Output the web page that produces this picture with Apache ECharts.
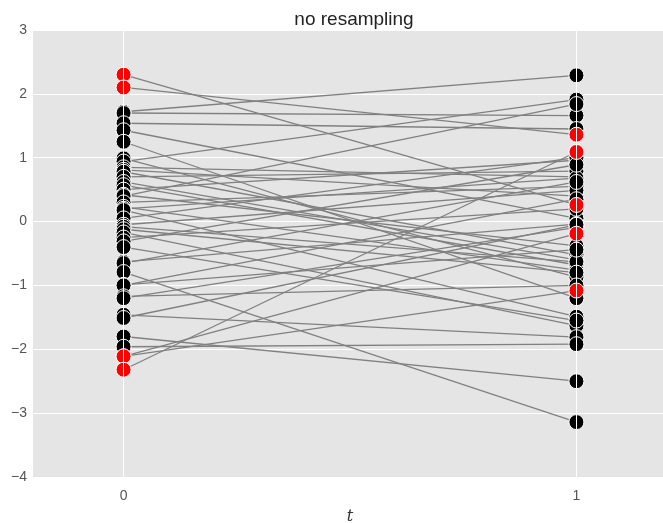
<!DOCTYPE html>
<html><head><meta charset="utf-8">
<script src="https://cdn.jsdelivr.net/npm/echarts@6/dist/echarts.min.js"></script>
<style>html,body{margin:0;padding:0;background:#fff;overflow:hidden}#c{width:663px;height:523px}</style>
</head><body><div id="c"></div>
<script>
// values at t=0 and t=1 for each sample (black)
const blackT0 = [1.72, 1.70, 1.54, 1.43, 1.25, 0.99, 0.94, 0.85, 0.81, 0.78, 0.70, 0.62, 0.57, 0.50, 0.42, 0.40, 0.30, 0.23, 0.20, 0.18, 0.05, -0.05, -0.08, -0.12, -0.17, -0.25, -0.31, -0.40, -0.63, -0.65, -0.79, -0.99, -1.00, -1.17, -1.20, -1.46, -1.51, -1.80, -1.96];
const blackT1 = [2.29, 1.66, 1.45, 0.05, -1.20, -0.87, 1.91, 0.70, 0.40, -0.52, 0.79, -0.60, -0.68, 0.96, -0.38, 1.84, 0.55, -0.76, 0.68, -1.49, 1.00, 0.49, -0.63, -0.80, -1.63, 0.20, 0.89, -1.55, -0.04, 0.62, -3.14, -0.44, 0.35, -1.00, -0.09, -1.81, -0.05, -2.50, -1.92];
// highlighted samples (red)
const redT0 = [2.30, 2.10, -2.11, -2.11, -2.32];
const redT1 = [0.26, 1.36, -1.08, -0.19, 1.09];
const tValues = [0, 1];
const yTicks = [-4, -3, -2, -1, 0, 1, 2, 3];

const series = [];
series.push({type:'line', data:[], z:0, silent:true,
  markLine:{silent:true, symbol:'none', label:{show:false},
    lineStyle:{color:'#ffffff', width:1, type:'solid'},
    data: tValues.map(v=>({xAxis:v}))}});
function addLines(a, b){
  for (let i=0;i<a.length;i++){
    series.push({type:'line', data:[[tValues[0],a[i]],[tValues[1],b[i]]], symbol:'none', silent:true, z:2,
      lineStyle:{color:'#808080', width:1.3}, animation:false});
  }
}
addLines(blackT0, blackT1);
addLines(redT0, redT1);
const bpts = [], rpts = [];
blackT0.forEach((v,i)=>{bpts.push([0,v]); bpts.push([1,blackT1[i]]);});
redT0.forEach((v,i)=>{rpts.push([0,v]); rpts.push([1,redT1[i]]);});
series.push({type:'scatter', data:bpts, symbolSize:15, z:3,
  itemStyle:{color:'#000000', borderColor:'#ffffff', borderWidth:1, opacity:1}});
series.push({type:'scatter', data:rpts, symbolSize:15, z:4,
  itemStyle:{color:'#ff0000', borderColor:'#ffffff', borderWidth:1, opacity:1}});

const chart = echarts.init(document.getElementById('c'));
chart.setOption({
  animation:false,
  backgroundColor:'#ffffff',
  title:{text:'no resampling', left:349, top:5, textAlign:'center',
    textStyle:{fontFamily:'Liberation Sans', fontSize:19, fontWeight:'normal', color:'#222'}},
  grid:{left:33, right:-4, top:30, bottom:46, show:true, backgroundColor:'#E5E5E5', borderWidth:0,
    containLabel:false, outerBoundsMode:'none'},
  xAxis:{type:'value', min:-0.2, max:1.2,
    name:'t', nameLocation:'middle', nameGap:32,
    nameTextStyle:{fontFamily:'DejaVu Serif', fontStyle:'italic', fontSize:16, color:'#333'},
    axisLine:{show:false}, axisTick:{show:false}, splitLine:{show:false},
    axisLabel:{customValues:tValues, formatter:v=>String(v), color:'#555', fontSize:14, fontFamily:'Liberation Sans', margin:12}},
  yAxis:{type:'value', min:yTicks[0], max:yTicks[yTicks.length-1], interval:1,
    axisLine:{show:false}, axisTick:{show:false},
    splitLine:{show:true, lineStyle:{color:'#ffffff', width:1}},
    axisLabel:{formatter:v=>String(v).replace('-', '\u2212'), color:'#555', fontSize:14, fontFamily:'Liberation Sans', margin:6}},
  series: series
});
</script></body></html>
